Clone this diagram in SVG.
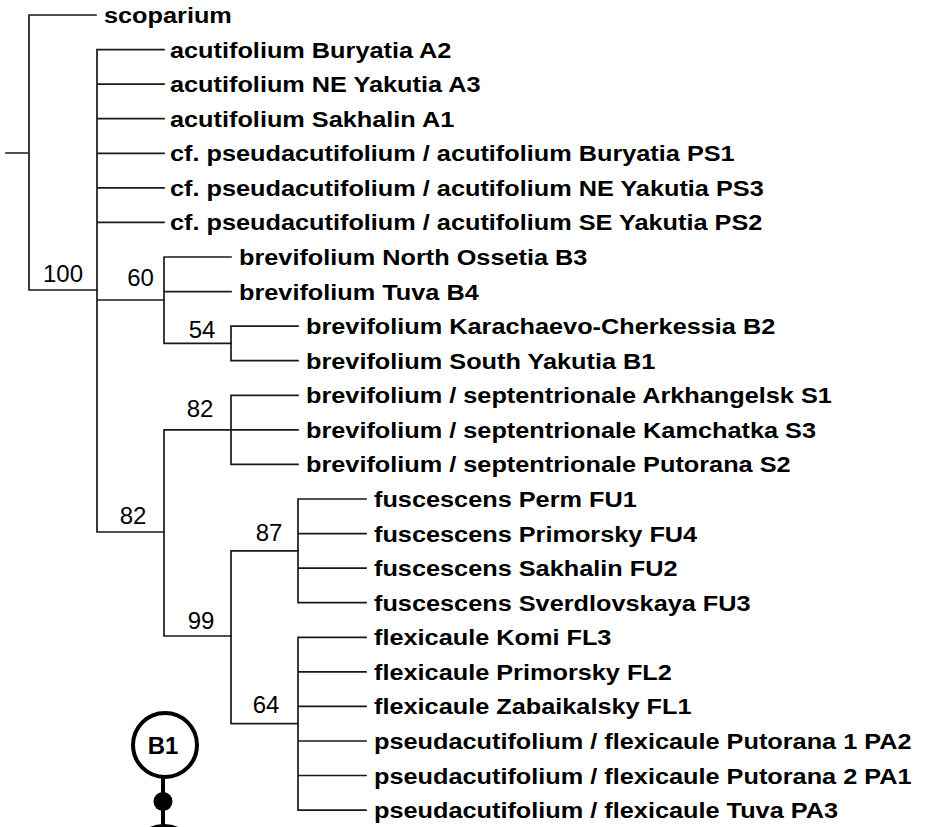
<svg xmlns="http://www.w3.org/2000/svg" width="932" height="827" viewBox="0 0 932 827">
<style>
.e{stroke:#1a1a1a;stroke-width:1.7;fill:none;stroke-linecap:square}
.t{font-family:"Liberation Sans",Arial,sans-serif;font-weight:bold;font-size:22px;fill:#000}
.s{font-family:"Liberation Sans",Arial,sans-serif;font-size:24px;fill:#000;text-anchor:middle}
.sym{stroke:#000;stroke-width:4;fill:#fff}
</style>
<rect width="932" height="827" fill="#fff"/>
<g id="connectors" class="e">
<path d="M6,153H29M29,15V290M29,15H96M29,290H97"/>
<path d="M97,49.6V532M97,49.6H164M97,84.1H164M97,118.7H164M97,153.3H164M97,187.9H164M97,222.4H164M97,300H164M97,532H164"/>
<path d="M164,257V343.4M164,257H231M164,291.6H231M164,343.4H231"/>
<path d="M231,326.1V360.7M231,326.1H298M231,360.7H298"/>
<path d="M164,429.8V636M164,429.8H231M164,636H231"/>
<path d="M231,395.3V464.4M231,395.3H298M231,429.8H298M231,464.4H298"/>
<path d="M231,550.8V723.7M231,550.8H298M231,723.7H298"/>
<path d="M298,499V602.7M298,499H366M298,533.6H366M298,568.1H366M298,602.7H366"/>
<path d="M298,637.3V810.1M298,637.3H366M298,671.8H366M298,706.4H366M298,741H366M298,775.5H366M298,810.1H366"/>
</g>
<g id="leaf-scoparium"><text class="t" transform="translate(104,23) scale(1.15,1)">scoparium</text></g>
<g id="leaf-A2"><text class="t" transform="translate(170,57.6) scale(1.15,1)">acutifolium Buryatia A2</text></g>
<g id="leaf-A3"><text class="t" transform="translate(170,92.1) scale(1.15,1)">acutifolium NE Yakutia A3</text></g>
<g id="leaf-A1"><text class="t" transform="translate(170,126.7) scale(1.15,1)">acutifolium Sakhalin A1</text></g>
<g id="leaf-PS1"><text class="t" transform="translate(170,161.3) scale(1.15,1)">cf. pseudacutifolium / acutifolium Buryatia PS1</text></g>
<g id="leaf-PS3"><text class="t" transform="translate(170,195.9) scale(1.15,1)">cf. pseudacutifolium / acutifolium NE Yakutia PS3</text></g>
<g id="leaf-PS2"><text class="t" transform="translate(170,230.4) scale(1.15,1)">cf. pseudacutifolium / acutifolium SE Yakutia PS2</text></g>
<g id="leaf-B3"><text class="t" transform="translate(239,265) scale(1.15,1)">brevifolium North Ossetia B3</text></g>
<g id="leaf-B4"><text class="t" transform="translate(239,299.6) scale(1.15,1)">brevifolium Tuva B4</text></g>
<g id="leaf-B2"><text class="t" transform="translate(306,334.1) scale(1.15,1)">brevifolium Karachaevo-Cherkessia B2</text></g>
<g id="leaf-B1"><text class="t" transform="translate(306,368.7) scale(1.15,1)">brevifolium South Yakutia B1</text></g>
<g id="leaf-S1"><text class="t" transform="translate(306,403.3) scale(1.15,1)">brevifolium / septentrionale Arkhangelsk S1</text></g>
<g id="leaf-S3"><text class="t" transform="translate(306,437.8) scale(1.15,1)">brevifolium / septentrionale Kamchatka S3</text></g>
<g id="leaf-S2"><text class="t" transform="translate(306,472.4) scale(1.15,1)">brevifolium / septentrionale Putorana S2</text></g>
<g id="leaf-FU1"><text class="t" transform="translate(374,507) scale(1.15,1)">fuscescens Perm FU1</text></g>
<g id="leaf-FU4"><text class="t" transform="translate(374,541.6) scale(1.15,1)">fuscescens Primorsky FU4</text></g>
<g id="leaf-FU2"><text class="t" transform="translate(374,576.1) scale(1.15,1)">fuscescens Sakhalin FU2</text></g>
<g id="leaf-FU3"><text class="t" transform="translate(374,610.7) scale(1.15,1)">fuscescens Sverdlovskaya FU3</text></g>
<g id="leaf-FL3"><text class="t" transform="translate(374,645.3) scale(1.15,1)">flexicaule Komi FL3</text></g>
<g id="leaf-FL2"><text class="t" transform="translate(374,679.8) scale(1.15,1)">flexicaule Primorsky FL2</text></g>
<g id="leaf-FL1"><text class="t" transform="translate(374,714.4) scale(1.15,1)">flexicaule Zabaikalsky FL1</text></g>
<g id="leaf-PA2"><text class="t" transform="translate(374,749) scale(1.15,1)">pseudacutifolium / flexicaule Putorana 1 PA2</text></g>
<g id="leaf-PA1"><text class="t" transform="translate(374,783.5) scale(1.15,1)">pseudacutifolium / flexicaule Putorana 2 PA1</text></g>
<g id="leaf-PA3"><text class="t" transform="translate(374,818.1) scale(1.15,1)">pseudacutifolium / flexicaule Tuva PA3</text></g>
<g id="node-100"><text class="s" x="63" y="282">100</text></g>
<g id="node-60"><text class="s" x="140.5" y="286">60</text></g>
<g id="node-54"><text class="s" x="202" y="338">54</text></g>
<g id="node-82-upper"><text class="s" x="200" y="417">82</text></g>
<g id="node-82-lower"><text class="s" x="133" y="524">82</text></g>
<g id="node-87"><text class="s" x="269" y="541">87</text></g>
<g id="node-99"><text class="s" x="201" y="629">99</text></g>
<g id="node-64"><text class="s" x="266" y="713">64</text></g>
<g id="symbol-B1">
<line x1="163" y1="777" x2="163" y2="827" stroke="#000" stroke-width="4"/>
<circle class="sym" cx="164" cy="858" r="32"/>
<circle class="sym" cx="165" cy="745" r="32"/>
<text x="163" y="754" font-family="Liberation Sans, Arial, sans-serif" font-weight="bold" font-size="24" text-anchor="middle">B1</text>
<circle cx="163" cy="801.5" r="9.5" fill="#000"/>
</g>
</svg>
